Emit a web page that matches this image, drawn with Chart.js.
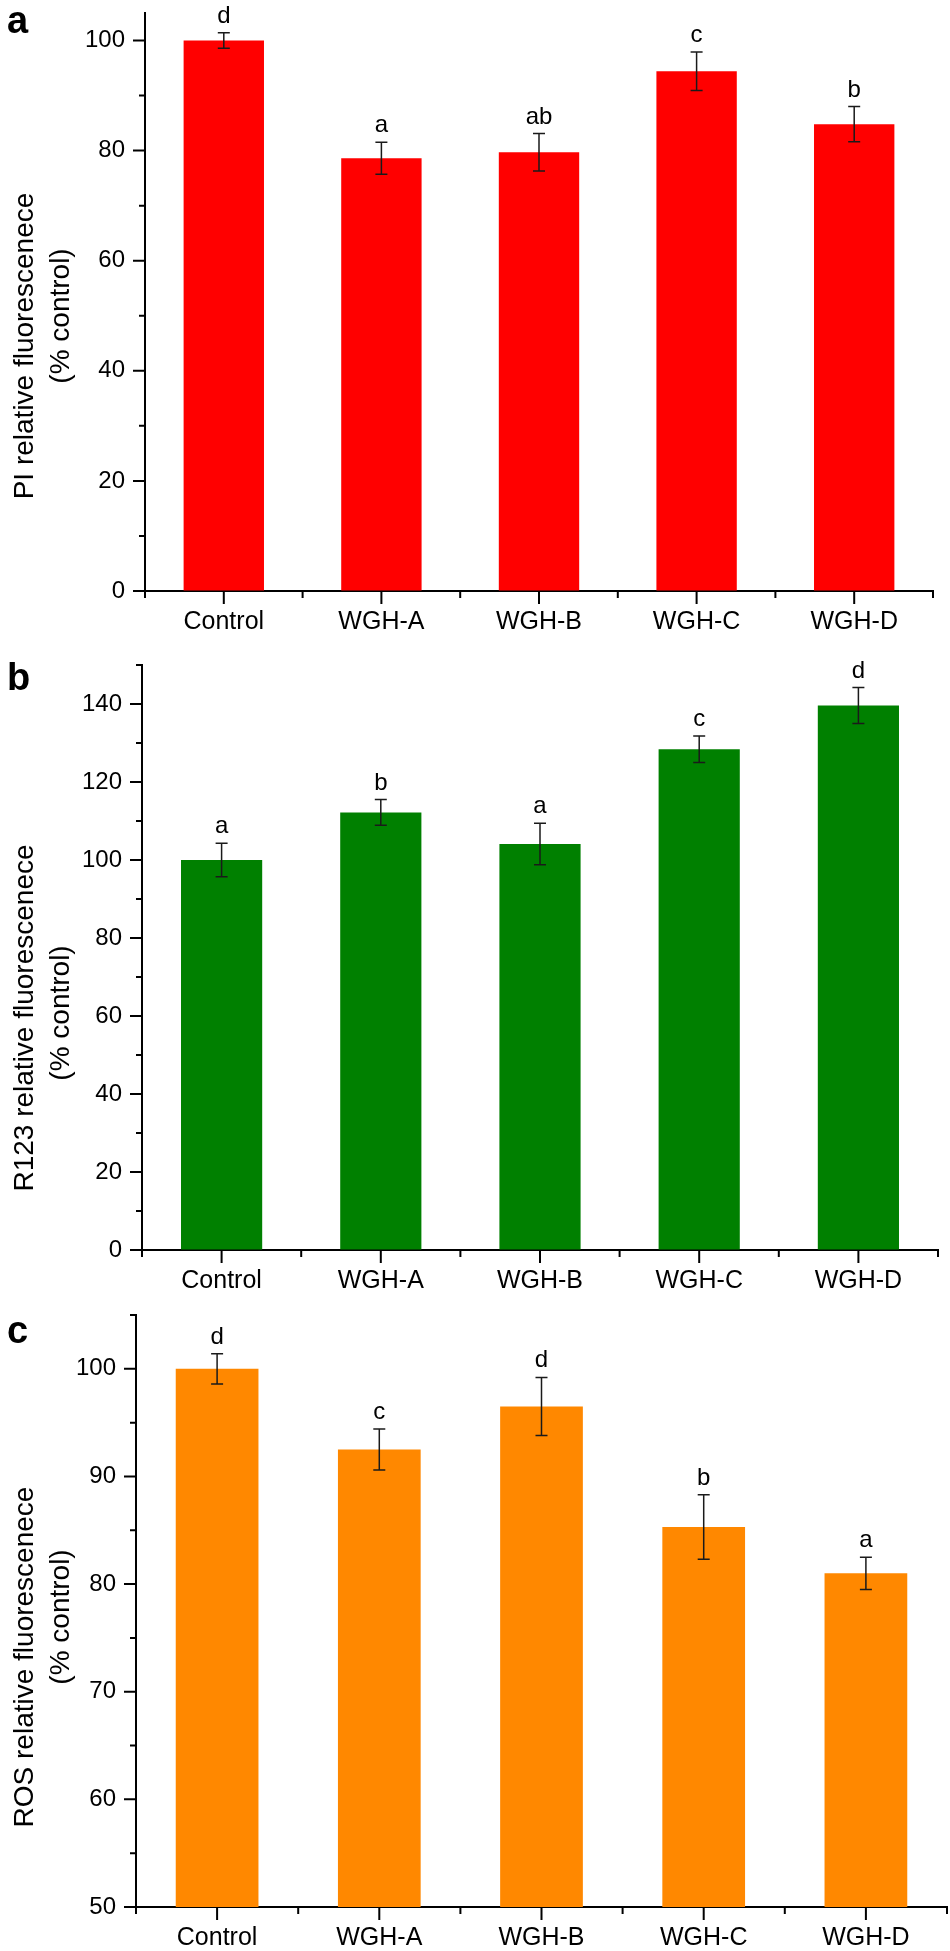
<!DOCTYPE html>
<html>
<head>
<meta charset="utf-8">
<script src="https://cdn.jsdelivr.net/npm/chart.js@4.4.1/dist/chart.umd.min.js"></script>
<style>
  body { margin: 0; background: #fff; }
  .panel { position: absolute; left: 0; width: 950px; }
</style>
</head>
<body>
<div class="panel" style="top:0;height:660px"><canvas id="chartA"></canvas></div>
<div class="panel" style="top:660px;height:640px"><canvas id="chartB"></canvas></div>
<div class="panel" style="top:1300px;height:651px"><canvas id="chartC"></canvas></div>
<script>
const groups = ['Control', 'WGH-A', 'WGH-B', 'WGH-C', 'WGH-D'];

// PI
const piMean = [100, 78.6, 79.7, 94.4, 84.8];
const piErr = [1.4, 2.9, 3.4, 3.5, 3.2];
const piLetters = ['d', 'a', 'ab', 'c', 'b'];
const piTicks = [0, 20, 40, 60, 80, 100];

// R123
const r123Mean = [100, 112.2, 104.1, 128.4, 139.6];
const r123Err = [4.3, 3.3, 5.3, 3.4, 4.6];
const r123Letters = ['a', 'b', 'a', 'c', 'd'];
const r123Ticks = [0, 20, 40, 60, 80, 100, 120, 140];

// ROS
const rosMean = [100, 92.5, 96.5, 85.3, 81.0];
const rosErr = [1.4, 1.9, 2.7, 3.0, 1.5];
const rosLetters = ['d', 'c', 'd', 'b', 'a'];
const rosTicks = [50, 60, 70, 80, 90, 100];

const FONT = "'Liberation Sans', Arial, sans-serif";

// ticks, error bars, letters, titles
const panelPlugin = {
    id: 'panelExtras',
    afterDatasetsDraw(chart, args, o) {
        const ctx = chart.ctx;
        const x = chart.scales.x, y = chart.scales.y;
        ctx.save();
        ctx.strokeStyle = '#1a1a1a';
        ctx.lineWidth = 1.5;
        ctx.fillStyle = '#000';
        ctx.font = '24px ' + FONT;
        ctx.textAlign = 'center';
        ctx.textBaseline = 'alphabetic';
        o.mean.forEach((m, i) => {
            const px = x.getPixelForValue(i);
            const top = y.getPixelForValue(m + o.err[i]);
            const bot = y.getPixelForValue(m - o.err[i]);
            ctx.beginPath();
            ctx.moveTo(px, top); ctx.lineTo(px, bot);
            ctx.moveTo(px - 6, top); ctx.lineTo(px + 6, top);
            ctx.moveTo(px - 6, bot); ctx.lineTo(px + 6, bot);
            ctx.stroke();
            ctx.fillText(o.letters[i], px, top - 10);
        });
        ctx.restore();
    },
    afterDraw(chart, args, o) {
        const ctx = chart.ctx;
        const x = chart.scales.x, y = chart.scales.y;
        const area = chart.chartArea;
        ctx.save();
        ctx.strokeStyle = '#000';
        ctx.lineWidth = 2;
        ctx.beginPath();
        // y major / minor ticks
        o.ticks.forEach((v, i) => {
            const py = y.getPixelForValue(v);
            ctx.moveTo(area.left - 12, py); ctx.lineTo(area.left, py);
            const mid = v + o.step / 2;
            if (mid <= y.max) {
                const pm = y.getPixelForValue(mid);
                ctx.moveTo(area.left - 6, pm); ctx.lineTo(area.left, pm);
            }
        });
        // x ticks
        groups.forEach((g, i) => {
            const px = x.getPixelForValue(i);
            ctx.moveTo(px, area.bottom); ctx.lineTo(px, area.bottom + 13);
        });
        for (let i = 0; i <= groups.length; i++) {
            const px = area.left + (area.right - area.left) * i / groups.length;
            ctx.moveTo(px, area.bottom); ctx.lineTo(px, area.bottom + 7);
        }
        ctx.stroke();

        // y title
        ctx.fillStyle = '#000';
        ctx.font = '28px ' + FONT;
        ctx.textAlign = 'center';
        ctx.textBaseline = 'middle';
        o.title.forEach(t => {
            ctx.save();
            ctx.translate(t.x, t.y);
            ctx.rotate(-Math.PI / 2);
            ctx.fillText(t.text, 0, 0);
            ctx.restore();
        });

        // panel letter
        ctx.font = 'bold 38px ' + FONT;
        ctx.textAlign = 'left';
        ctx.textBaseline = 'alphabetic';
        ctx.fillText(o.tag, 7, o.tagY);
        ctx.restore();
    }
};

function makePanel(id, cfg) {
    const H = cfg.height;
    new Chart(document.getElementById(id), {
        type: 'bar',
        data: {
            labels: groups,
            datasets: [{
                data: cfg.mean,
                backgroundColor: cfg.color,
                barPercentage: 0.51,
                categoryPercentage: 1
            }]
        },
        options: {
            responsive: true,
            maintainAspectRatio: false,
            animation: false,
            layout: { padding: { top: cfg.area.top, right: 950 - cfg.area.right, left: 0, bottom: 0 } },
            plugins: {
                legend: { display: false },
                tooltip: { enabled: false },
                panelExtras: {
                    mean: cfg.mean, err: cfg.err, letters: cfg.letters,
                    ticks: cfg.ticks, step: cfg.step,
                    title: cfg.title, tag: cfg.tag, tagY: cfg.tagY
                }
            },
            scales: {
                x: {
                    grid: { drawOnChartArea: false, drawTicks: false },
                    border: { color: '#000', width: 2 },
                    ticks: { color: '#000', font: { family: FONT, size: 25 }, padding: 16 },
                    afterFit: s => { s.height = H - cfg.area.bottom; s.paddingLeft = 0; s.paddingRight = 0; }
                },
                y: {
                    min: cfg.min, max: cfg.max,
                    grid: { drawOnChartArea: false, drawTicks: false },
                    border: { color: '#000', width: 2 },
                    ticks: { color: '#000', font: { family: FONT, size: 24 }, padding: 20 },
                    afterBuildTicks: s => { s.ticks = cfg.ticks.map(v => ({ value: v })); },
                    afterFit: s => { s.width = cfg.area.left; s.paddingTop = 0; s.paddingBottom = 0; }
                }
            }
        },
        plugins: [panelPlugin]
    });
}

makePanel('chartA', {
    height: 660, mean: piMean, err: piErr, letters: piLetters,
    ticks: piTicks, step: 20, min: 0, max: 105, color: '#ff0000',
    area: { top: 13, bottom: 591, left: 145, right: 933 },
    title: [{ text: 'PI relative fluorescenece', x: 25, y: 346 }, { text: '(% control)', x: 61, y: 316 }],
    tag: 'a', tagY: 33
});

makePanel('chartB', {
    height: 640, mean: r123Mean, err: r123Err, letters: r123Letters,
    ticks: r123Ticks, step: 20, min: 0, max: 150, color: '#008000',
    area: { top: 5, bottom: 590, left: 142, right: 938 },
    title: [{ text: 'R123 relative fluorescenece', x: 25, y: 358 }, { text: '(% control)', x: 61, y: 353 }],
    tag: 'b', tagY: 30
});

makePanel('chartC', {
    height: 651, mean: rosMean, err: rosErr, letters: rosLetters,
    ticks: rosTicks, step: 10, min: 50, max: 105, color: '#ff8800',
    area: { top: 15, bottom: 607, left: 136, right: 947 },
    title: [{ text: 'ROS relative fluorescenece', x: 25, y: 357 }, { text: '(% control)', x: 61, y: 317 }],
    tag: 'c', tagY: 43
});
</script>
</body>
</html>
